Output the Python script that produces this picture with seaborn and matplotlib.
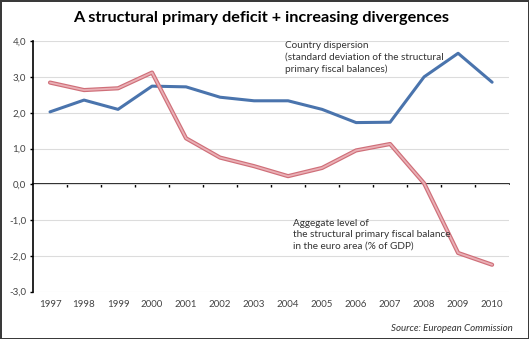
import matplotlib
matplotlib.use("Agg")
import matplotlib.pyplot as plt
import matplotlib.patheffects as pe
from matplotlib.ticker import FuncFormatter, NullFormatter
import pandas as pd
import seaborn as sns

years = list(range(1997, 2011))
dispersion = [2.03, 2.36, 2.10, 2.75, 2.73, 2.44, 2.34, 2.34, 2.10, 1.73, 1.74, 3.01, 3.67, 2.86]
aggregate = [2.85, 2.64, 2.69, 3.13, 1.29, 0.75, 0.51, 0.23, 0.46, 0.95, 1.13, 0.03, -1.92, -2.25]
y_ticks = [-3, -2, -1, 0, 1, 2, 3, 4]

title = "A structural primary deficit + increasing divergences"
label_dispersion = "Country dispersion\n(standard deviation of the structural\nprimary fiscal balances)"
label_aggregate = "Aggegate level of\nthe structural primary fiscal balance\nin the euro area (% of GDP)"
source = "Source: European Commission"

df = pd.DataFrame({
    "year": years * 2,
    "value": dispersion + aggregate,
    "series": ["dispersion"] * len(years) + ["aggregate"] * len(years),
})

sns.set_style("white")
plt.rcParams["font.family"] = ["Lato", "DejaVu Sans"]

BLUE = "#4a74ad"
PINK = "#eab0b6"

fig = plt.figure(figsize=(5.29, 3.39), dpi=100, facecolor="white",
                 edgecolor="#3a3a3a", linewidth=2.0)
ax = fig.add_axes([0.0624, 0.140, 0.900, 0.7376])

sns.lineplot(data=df, x="year", y="value", hue="series",
             palette={"dispersion": BLUE, "aggregate": PINK},
             linewidth=2.0, ax=ax, legend=False, zorder=3)

# blue line plain, red line with a darker rim
for ln in ax.get_lines():
    if matplotlib.colors.to_hex(ln.get_color()) == PINK:
        ln.set_linewidth(1.3)
        ln.set_path_effects([pe.Stroke(linewidth=3.0, foreground="#cf6f79"), pe.Normal()])
    else:
        ln.set_linewidth(2.2)

ax.set_xlim(1996.5, 2010.5)
ax.set_ylim(-3, 4)
ax.set_yticks(y_ticks)
ax.yaxis.set_major_formatter(FuncFormatter(lambda v, p: f"{v:.1f}".replace(".", ",")))
ax.grid(axis="y", color="#dcdcdc", linewidth=0.8, zorder=0)
ax.set_axisbelow(True)

ax.set_xticks(years)
ax.set_xticklabels([str(y) for y in years])
ax.tick_params(axis="x", length=0, pad=6, labelsize=7, labelcolor="#444444")
ax.tick_params(axis="y", length=2.5, width=1, color="black", direction="out",
               pad=2.5, labelsize=7, labelcolor="#444444", left=True)

for side in ["top", "right", "bottom"]:
    ax.spines[side].set_visible(False)
ax.spines["left"].set_color("black")
ax.spines["left"].set_linewidth(1.2)
ax.set_xlabel("")
ax.set_ylabel("")

# category axis drawn through zero with boundary ticks
zero_axis = ax.secondary_xaxis(3 / 7)
zero_axis.set_xticks([y - 0.5 for y in years[1:]])
zero_axis.xaxis.set_major_formatter(NullFormatter())
zero_axis.xaxis.set_ticks_position("bottom")
zero_axis.tick_params(axis="x", length=2.5, width=1, color="black", direction="out",
                      labelbottom=False, labeltop=False)
zero_axis.spines["bottom"].set_color("black")
zero_axis.spines["bottom"].set_linewidth(1.2)
for side in ["top", "left", "right"]:
    if side in zero_axis.spines:
        zero_axis.spines[side].set_visible(False)

ax.text(0.529, 1.0, label_dispersion, transform=ax.transAxes, ha="left", va="top",
        fontsize=7.2, color="#333333", linespacing=1.35)
ax.text(0.546, 0.292, label_aggregate, transform=ax.transAxes, ha="left", va="top",
        fontsize=7.2, color="#333333", linespacing=1.35)

fig.text(0.494, 0.947, title, ha="center", va="center", fontsize=11.7,
         fontweight="bold", color="black")
fig.text(0.970, 0.032, source, ha="right", va="center", fontsize=7,
         style="italic", color="#333333")

fig.savefig("out.png", dpi=100, facecolor="white", edgecolor=fig.get_edgecolor())
